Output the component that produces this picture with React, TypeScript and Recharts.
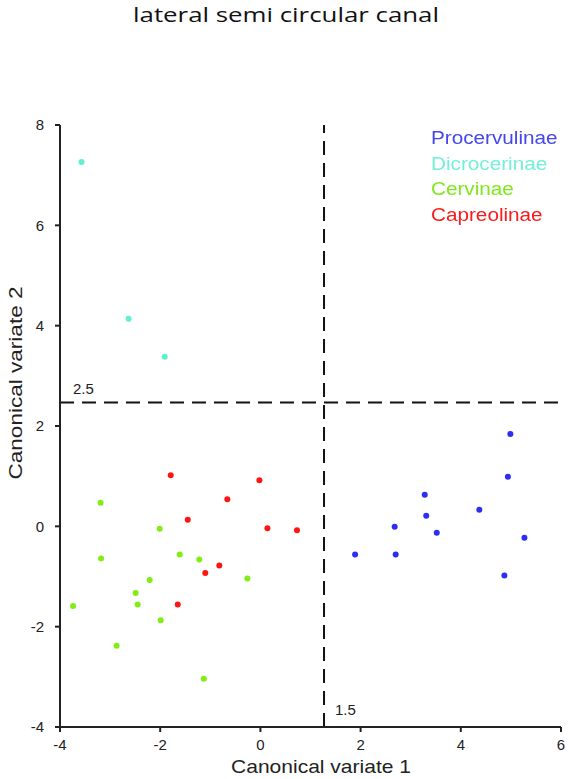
import React from 'react';
import { ScatterChart, Scatter, XAxis, YAxis, ReferenceLine, Legend } from 'recharts';

const procervulinae = [
  { x: 4.99, y: 1.84 }, { x: 4.94, y: 0.99 }, { x: 3.28, y: 0.63 }, { x: 3.31, y: 0.21 },
  { x: 4.37, y: 0.33 }, { x: 2.68, y: -0.01 }, { x: 3.52, y: -0.13 }, { x: 5.27, y: -0.23 },
  { x: 1.89, y: -0.56 }, { x: 2.70, y: -0.56 }, { x: 4.87, y: -0.98 },
];
const dicrocerinae = [
  { x: -3.57, y: 7.26 }, { x: -2.63, y: 4.14 }, { x: -1.91, y: 3.38 },
];
const cervinae = [
  { x: -3.19, y: 0.47 }, { x: -2.01, y: -0.05 }, { x: -3.18, y: -0.64 }, { x: -1.61, y: -0.56 },
  { x: -1.22, y: -0.66 }, { x: -2.21, y: -1.07 }, { x: -0.26, y: -1.04 }, { x: -2.49, y: -1.33 },
  { x: -2.45, y: -1.56 }, { x: -3.74, y: -1.59 }, { x: -1.99, y: -1.87 }, { x: -2.87, y: -2.38 },
  { x: -1.13, y: -3.04 },
];
const capreolinae = [
  { x: -1.79, y: 1.02 }, { x: -0.02, y: 0.92 }, { x: -0.66, y: 0.54 }, { x: -1.45, y: 0.13 },
  { x: 0.14, y: -0.04 }, { x: 0.73, y: -0.08 }, { x: -0.82, y: -0.78 }, { x: -1.10, y: -0.93 },
  { x: -1.65, y: -1.56 },
];

const xTicks = [-4, -2, 0, 2, 4, 6];
const yTicks = [-4, -2, 0, 2, 4, 6, 8];
const xThreshold = 1.27;
const xThresholdLabel = '1.5';
const yThreshold = 2.47;
const yThresholdLabel = '2.5';
const chartTitle = 'lateral semi circular canal';

const series = [
  { name: 'Procervulinae', data: procervulinae, color: '#2e2ef2', text: '#4646ee' },
  { name: 'Dicrocerinae', data: dicrocerinae, color: '#5ef0d0', text: '#72f0d8' },
  { name: 'Cervinae', data: cervinae, color: '#80ee14', text: '#7eea1c' },
  { name: 'Capreolinae', data: capreolinae, color: '#ff1414', text: '#f81c1c' },
];

const AXIS_FONT = '"Liberation Sans", Arial, sans-serif';

const Dot = (props: any) => {
  const { cx, cy, fill } = props;
  if (cx == null || cy == null) return null;
  return <circle cx={cx} cy={cy} r={3} fill={fill} />;
};

const LegendContent = () => (
  <div style={{ fontFamily: AXIS_FONT, fontSize: 18, lineHeight: '25.5px' }}>
    {series.map((s) => (
      <div key={s.name} style={{ color: s.text, transform: 'scaleX(1.15)', transformOrigin: 'left', whiteSpace: 'nowrap' }}>{s.name}</div>
    ))}
  </div>
);

export default function App() {
  return (
    <div style={{ position: 'fixed', left: 0, top: 0, width: 569, height: 779, background: '#fff' }}>
      <svg width={569} height={40} style={{ position: 'absolute', left: 0, top: 0 }}>
        <text x={286} y={22} textAnchor="middle" fill="#111" fontSize={20}
          fontFamily='"Open Sans", "Noto Sans", sans-serif' textLength={306} lengthAdjust="spacingAndGlyphs">
          {chartTitle}
        </text>
      </svg>
      <ScatterChart width={569} height={779} margin={{ top: 125, right: 8, bottom: 0, left: 0 }}>
        <XAxis
          type="number" dataKey="x" domain={[-4, 6]} ticks={xTicks} allowDataOverflow
          height={52} tickSize={5} tickMargin={7}
          axisLine={{ stroke: '#222', strokeWidth: 2 }} tickLine={{ stroke: '#222', strokeWidth: 2 }}
          tick={{ fill: '#222', fontSize: 15, fontFamily: AXIS_FONT }}
          label={{
            content: () => (
              <text x={321} y={773} textAnchor="middle" fill="#222" fontSize={19} fontFamily={AXIS_FONT}
                textLength={180} lengthAdjust="spacingAndGlyphs">Canonical variate 1</text>
            ),
          }}
        />
        <YAxis
          type="number" dataKey="y" domain={[-4, 8]} ticks={yTicks} allowDataOverflow
          width={60} tickSize={5} tickMargin={11}
          axisLine={{ stroke: '#222', strokeWidth: 2 }} tickLine={{ stroke: '#222', strokeWidth: 2 }}
          tick={{ fill: '#222', fontSize: 15, fontFamily: AXIS_FONT }}
          label={{
            content: () => (
              <text x={22} y={383} textAnchor="middle" fill="#222" fontSize={19} fontFamily={AXIS_FONT}
                transform="rotate(-90 22 383)" textLength={193} lengthAdjust="spacingAndGlyphs">Canonical variate 2</text>
            ),
          }}
        />
        <ReferenceLine
          y={yThreshold} stroke="#111" strokeWidth={2} strokeDasharray="14 8" ifOverflow="visible"
          label={{
            content: (p: any) => (
              <text x={p.viewBox.x + 13} y={p.viewBox.y - 8} fill="#222" fontSize={15} fontFamily={AXIS_FONT}>{yThresholdLabel}</text>
            ),
          }}
        />
        <ReferenceLine
          x={xThreshold} stroke="#111" strokeWidth={2} strokeDasharray="14 8" ifOverflow="visible"
          label={{
            content: (p: any) => (
              <text x={p.viewBox.x + 11} y={p.viewBox.y + p.viewBox.height - 12} fill="#222" fontSize={15} fontFamily={AXIS_FONT}>{xThresholdLabel}</text>
            ),
          }}
        />
        {series.map((s) => (
          <Scatter key={s.name} name={s.name} data={s.data} fill={s.color} shape={<Dot />} isAnimationActive={false} />
        ))}
        <Legend
          layout="vertical" align="center" verticalAlign="middle" content={<LegendContent />}
          wrapperStyle={{ position: 'absolute', left: 431, top: 126, width: 138, height: 110 }}
        />
      </ScatterChart>
    </div>
  );
}
